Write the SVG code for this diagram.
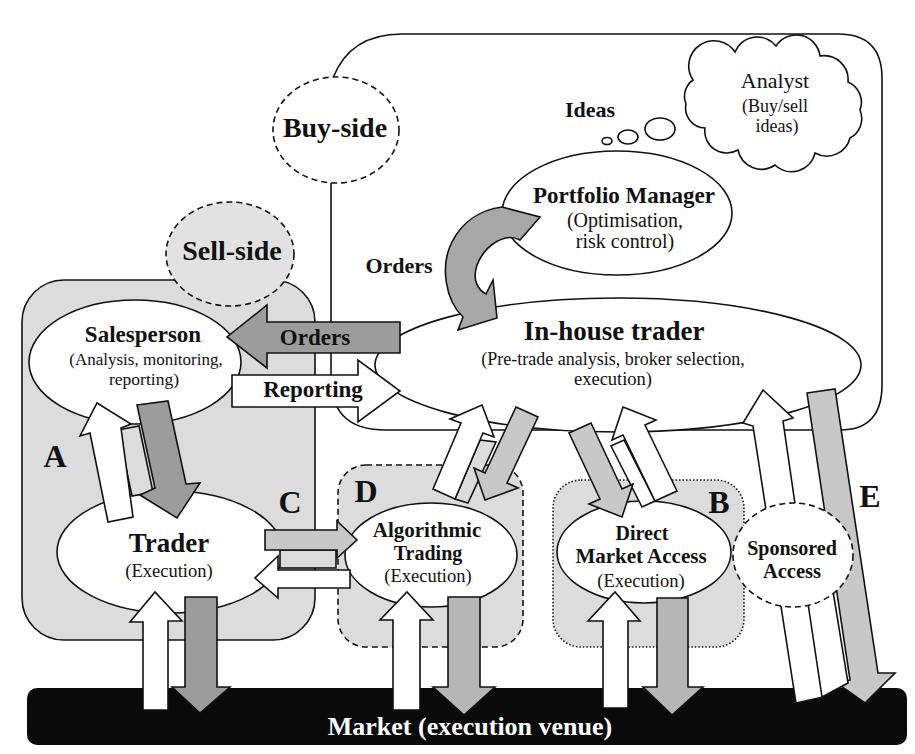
<svg xmlns="http://www.w3.org/2000/svg" width="915" height="754" viewBox="0 0 915 754">
<style>
text{font-family:"Liberation Serif","Times New Roman",serif;fill:#111;text-anchor:middle}
.b{font-weight:bold}
.ln{fill:none;stroke:#111;stroke-width:1.6}
.wh{fill:#fff;stroke:#111;stroke-width:1.6}
.dk{fill:#9c9c9c;stroke:#111;stroke-width:1.6}
.md{fill:#b6b6b6;stroke:#111;stroke-width:1.6}
.lt{fill:#c8c8c8;stroke:#111;stroke-width:1.6}
.pl{fill:#dcdcdc;stroke:#111;stroke-width:1.6}
.dash{stroke-dasharray:6 4}
.dot{stroke-dasharray:1.5 2}
</style>
<rect width="915" height="754" fill="#fff"/>
<g id="regions">
  <rect id="sell-side-region" class="pl" x="22" y="280" width="293" height="360" rx="42"/>
  <path id="buy-side-region" class="ln" d="M331,183 V385 Q335,430 385,430 H840 Q882,430 882,385 V78 Q882,34 838,34 H402 Q350,34 333,78"/>
  <rect id="region-D" class="pl dash" x="338" y="465" width="185" height="182" rx="28"/>
  <rect id="region-B" class="pl dot" x="553" y="480" width="191" height="167" rx="28"/>
  <text class="b" x="55" y="467" font-size="32">A</text>
  <text class="b" x="290" y="513" font-size="32">C</text>
  <text class="b" x="366" y="502" font-size="32">D</text>
  <text class="b" x="719" y="513" font-size="32">B</text>
  <text class="b" x="870" y="507" font-size="32">E</text>
</g>
<g id="market">
  <rect x="27" y="688" width="880" height="57" rx="10" fill="#0a0a0a"/>
</g>
<g id="buy-side">
  <ellipse class="wh dash" cx="336" cy="130" rx="63" ry="53"/>
  <text class="b" x="335" y="137" font-size="28">Buy-side</text>
</g>
<g id="sell-side">
  <ellipse class="dash" cx="230" cy="254" rx="64" ry="52" fill="#e2e2e2" stroke="#111" stroke-width="1.6"/>
  <text class="b" x="232" y="260" font-size="28">Sell-side</text>
</g>
<g id="analyst">
  <path class="wh" d="M693,80 A24,24 0 0 1 735,52 A24,24 0 0 1 776,46 A24,24 0 0 1 820,56 A24,24 0 0 1 848,82 A22,22 0 0 1 860,110 A22,22 0 0 1 850,138 A24,24 0 0 1 815,153 A24,24 0 0 1 775,165 A24,24 0 0 1 738,150 A22,22 0 0 1 705,128 A20,20 0 0 1 686,104 A20,20 0 0 1 693,80 Z"/>
  <text x="775" y="88" font-size="22">Analyst</text>
  <text x="775" y="112" font-size="18">(Buy/sell</text>
  <text x="777" y="132" font-size="18">ideas)</text>
</g>
<g id="ideas">
  <ellipse class="wh" cx="607" cy="141" rx="5" ry="3.5"/>
  <ellipse class="wh" cx="628" cy="137" rx="10" ry="7"/>
  <ellipse class="wh" cx="660" cy="129" rx="15" ry="11"/>
  <text class="b" x="590" y="117" font-size="22">Ideas</text>
</g>
<g id="portfolio-manager">
  <ellipse class="wh" cx="617" cy="213" rx="115" ry="62"/>
  <text class="b" x="624" y="203" font-size="23">Portfolio Manager</text>
  <text x="625" y="227" font-size="20">(Optimisation,</text>
  <text x="625" y="248" font-size="20">risk control)</text>
</g>
<g id="in-house-trader">
  <ellipse class="wh" cx="618" cy="365" rx="243" ry="67"/>
  <text class="b" x="614" y="340" font-size="27">In-house trader</text>
  <text x="613" y="365" font-size="18">(Pre-trade analysis, broker selection,</text>
  <text x="613" y="385" font-size="18.5">execution)</text>
</g>
<g id="salesperson">
  <ellipse class="wh" cx="135" cy="362" rx="106" ry="62"/>
  <text class="b" x="143" y="342" font-size="23">Salesperson</text>
  <text x="146" y="365" font-size="17">(Analysis, monitoring,</text>
  <text x="144" y="385" font-size="17.5">reporting)</text>
</g>
<g id="trader">
  <ellipse class="wh" cx="170" cy="552" rx="113" ry="61"/>
  <text class="b" x="169" y="552" font-size="27">Trader</text>
  <text x="169" y="577" font-size="18.5">(Execution)</text>
</g>
<g id="algorithmic-trading">
  <ellipse class="wh" cx="431" cy="555" rx="86" ry="52"/>
  <text class="b" x="427" y="537" font-size="21">Algorithmic</text>
  <text class="b" x="428" y="560" font-size="20">Trading</text>
  <text x="428" y="582" font-size="18.5">(Execution)</text>
</g>
<g id="direct-market-access">
  <ellipse class="wh" cx="644" cy="552" rx="87" ry="51"/>
  <text class="b" x="642" y="540" font-size="20">Direct</text>
  <text class="b" x="641" y="563" font-size="21">Market Access</text>
  <text x="641" y="587" font-size="18.5">(Execution)</text>
</g>
<g id="connectors">
  <!-- PM -> in-house curved orders -->
  <path fill="#a8a8a8" stroke="#111" stroke-width="1.6" d="M502,207 L540,217 L520,240 C505,232 485,245 477,265 C472,280 478,290 486,294 L493,280 L497,318 L458,330 L463,317 C445,300 440,265 452,242 C462,222 480,210 502,207 Z"/>
  <text class="b" x="399" y="273" font-size="22">Orders</text>
  <!-- in-house -> salesperson orders -->
  <path class="dk" d="M400,322 H267 V305 L227,337 L267,368 V353 H400 Z"/>
  <text class="b" x="315" y="345" font-size="23">Orders</text>
  <path class="wh" d="M232,375 H358 V360 L400,391 L358,422 V407 H232 Z"/>
  <text class="b" x="313" y="397" font-size="23">Reporting</text>
  <!-- A -->
  <polygon class="pl" points="118,430 139,426 153,492 132,496"/>
  <polygon class="wh" points="97,403 131,424 121,428 133,517 108,522 90,433 80,436"/>
  <polygon class="dk" points="137,405 168,401 186,484 200,483 177,518 140,495 155,488"/>
  <!-- C -->
  <rect class="pl" x="280" y="550" width="56" height="18"/>
  <path class="lt" d="M265,530 H337 V521 L357,540 L337,558 V550 H265 Z"/>
  <path class="wh" d="M350,570 H278 V556 L255,578 L278,598 V588 H350 Z"/>
  <!-- D tilted -->
  <polygon class="pl" points="480,440 496,442 468,503 455,499"/>
  <polygon class="wh" points="482,405 494,437 483,433 455,499 433,489 461,423 450,419"/>
  <polygon class="lt" points="516,407 538,417 507,483 518,488 485,500 474,468 485,473"/>
  <!-- B tilted -->
  <polygon class="wh" points="611,446 624,440 655,501 642,507"/>
  <polygon class="wh" points="623,407 656,420 645,425 677,491 655,501 623,435 612,440"/>
  <polygon class="lt" points="569,433 591,423 622,489 633,484 622,517 589,504 600,499"/>
  <!-- to market -->
  <path class="wh" d="M143,710 V622 H130 L155,592 L182,621 H168 V710 Z"/>
  <path class="dk" d="M185,597 H217 V687 H230 L200,713 L172,687 H185 Z"/>
  <path class="wh" d="M393,710 V620 H380 L407,592 L433,620 H420 V710 Z"/>
  <path class="md" d="M448,597 H480 V687 H495 L464,715 L433,687 H448 Z"/>
  <path class="wh" d="M603,708 V621 H588 L615,592 L640,621 H628 V708 Z"/>
  <path class="md" d="M657,598 H688 V687 H703 L672,715 L643,687 H657 Z"/>
  <!-- E / sponsored -->
  <polygon class="lt" points="807,393 835,389 878,673 895,673 865,703 838,684 850,680"/>
  <polygon class="wh" points="763,390 793,418 783,421 823,697 796,703 753,426 743,423"/>
  <polygon class="wh" points="806,590 832,585 848,683 822,697"/>
</g>
<g id="sponsored-access">
  <ellipse class="wh dash" cx="793" cy="555" rx="60" ry="52"/>
  <text class="b" x="792" y="555" font-size="20">Sponsored</text>
  <text class="b" x="792" y="578" font-size="20.5">Access</text>
</g>
<g id="market-label">
  <text class="b" x="470" y="735" font-size="26" fill="#fff" style="fill:#fff">Market (execution venue)</text>
</g>
</svg>
